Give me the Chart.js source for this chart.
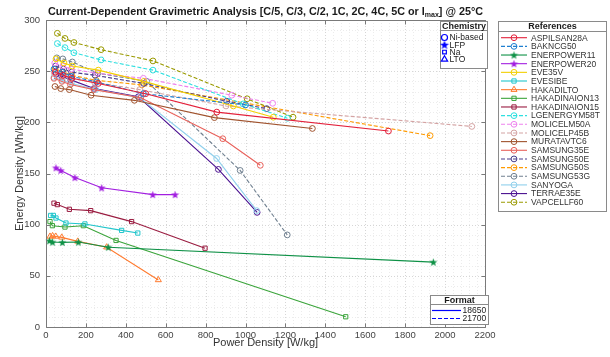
<!DOCTYPE html>
<html><head><meta charset="utf-8">
<script src="https://cdn.jsdelivr.net/npm/chart.js@4.4.1/dist/chart.umd.min.js"></script>
<style>html,body{margin:0;padding:0;background:#fff;}canvas{display:block}</style>
</head><body>
<canvas id="c" width="610" height="357"></canvas>
<script>
// ---- data (x = power density W/kg, y = energy density Wh/kg) ----
const seriesNames = ['ASPILSAN28A','BAKNCG50','ENERPOWER11','ENERPOWER20','EVE35V','EVESIBE','HAKADILTO','HAKADINAION13','HAKADINAION15','LGENERGYM58T','MOLICELM50A','MOLICELP45B','MURATAVTC6','SAMSUNG35E','SAMSUNG50E','SAMSUNG50S','SAMSUNG53G','SANYOGA','TERRAE35E','VAPCELLF60'];
const ASPILSAN28A_P = [46,86,130,262,500,856,1716];
const ASPILSAN28A_E = [249,246,243,238,228,210,191.5];
const BAKNCG50_P = [40,80,125,254,488,1000];
const BAKNCG50_E = [252,249,245,239.5,228,217];
const ENERPOWER11_P = [17,33,82,162,312,1941];
const ENERPOWER11_E = [84.3,83,82.7,83,78,63.4];
const ENERPOWER20_P = [50,74,145,279,535,647];
const ENERPOWER20_E = [155.6,153,146,136,129.4,129.4];
const EVE35V_P = [50,90,132,262,490,939,1139];
const EVE35V_E = [262,258,255,251,240,216,205];
const EVESIBE_P = [23,37,50,100,195,379,460];
const EVESIBE_E = [109,109,106.5,101.6,100.7,94.4,91.8];
const HAKADILTO_P = [20,33,49,79,159,304,563];
const HAKADILTO_E = [88.5,89,88.5,87.6,83.7,78,46];
const HAKADINAION13_P = [20,32,95,187,351,1502];
const HAKADINAION13_E = [103,99,97.7,99,84.6,10];
const HAKADINAION15_P = [40,57,117,224,429,797];
const HAKADINAION15_E = [121,119.6,115,113.7,103,77];
const LGENERGYM58T_P = [57,95,140,276,536,988,1210];
const LGENERGYM58T_E = [277,273,268,261,251,218,204];
const MOLICELM50A_P = [44,84,126,255,488,931,1136];
const MOLICELM50A_E = [258,255,252,248,243,226.5,218.6];
const MOLICELP45B_P = [42,82,122,244,470,902,2134];
const MOLICELP45B_E = [248,246,243,239,232,216,196];
const MURATAVTC6_P = [45,74,117,226,443,844,1335];
const MURATAVTC6_E = [235,233,232,226.5,221.5,204.6,194];
const SAMSUNG35E_P = [40,80,122,240,475,886,1074];
const SAMSUNG35E_E = [243,240,237,232,224,184,158];
const SAMSUNG50E_P = [48,88,128,246,490,906,1106];
const SAMSUNG50E_E = [255,252,249,246,238,220.6,213.4];
const SAMSUNG50S_P = [46,86,128,252,480,1925];
const SAMSUNG50S_E = [252,249,246,241,236.6,187];
const SAMSUNG53G_P = [54,84,132,260,505,973,1209];
const SAMSUNG53G_E = [263,262,259,248,240,153,90];
const SANYOGA_P = [40,82,128,250,470,855,1056];
const SANYOGA_E = [244,241,238,232,224,164.7,113.7];
const TERRAE35E_P = [50,79,124,241,463,864,1058];
const TERRAE35E_E = [247,245,241.5,233,225,154,112];
const VAPCELLF60_P = [57,95,140,276,536,1008,1238];
const VAPCELLF60_E = [287,282,278,271,260,223,205];
const xTickValues = [0,200,400,600,800,1000,1200,1400,1600,1800,2000,2200];
const yTickValues = [0,50,100,150,200,250,300];

const dataP = {ASPILSAN28A:ASPILSAN28A_P,BAKNCG50:BAKNCG50_P,ENERPOWER11:ENERPOWER11_P,ENERPOWER20:ENERPOWER20_P,EVE35V:EVE35V_P,EVESIBE:EVESIBE_P,HAKADILTO:HAKADILTO_P,HAKADINAION13:HAKADINAION13_P,HAKADINAION15:HAKADINAION15_P,LGENERGYM58T:LGENERGYM58T_P,MOLICELM50A:MOLICELM50A_P,MOLICELP45B:MOLICELP45B_P,MURATAVTC6:MURATAVTC6_P,SAMSUNG35E:SAMSUNG35E_P,SAMSUNG50E:SAMSUNG50E_P,SAMSUNG50S:SAMSUNG50S_P,SAMSUNG53G:SAMSUNG53G_P,SANYOGA:SANYOGA_P,TERRAE35E:TERRAE35E_P,VAPCELLF60:VAPCELLF60_P};
const dataE = {ASPILSAN28A:ASPILSAN28A_E,BAKNCG50:BAKNCG50_E,ENERPOWER11:ENERPOWER11_E,ENERPOWER20:ENERPOWER20_E,EVE35V:EVE35V_E,EVESIBE:EVESIBE_E,HAKADILTO:HAKADILTO_E,HAKADINAION13:HAKADINAION13_E,HAKADINAION15:HAKADINAION15_E,LGENERGYM58T:LGENERGYM58T_E,MOLICELM50A:MOLICELM50A_E,MOLICELP45B:MOLICELP45B_E,MURATAVTC6:MURATAVTC6_E,SAMSUNG35E:SAMSUNG35E_E,SAMSUNG50E:SAMSUNG50E_E,SAMSUNG50S:SAMSUNG50S_E,SAMSUNG53G:SAMSUNG53G_E,SANYOGA:SANYOGA_E,TERRAE35E:TERRAE35E_E,VAPCELLF60:VAPCELLF60_E};

// ---- styles ----
const style = {
  ASPILSAN28A:['#e3203a','solid','circle'],
  BAKNCG50:['#1f7fd0','dash','circle'],
  ENERPOWER11:['#0e9146','solid','star'],
  ENERPOWER20:['#a21fe0','solid','star'],
  EVE35V:['#f2cf00','solid','circle'],
  EVESIBE:['#22c6cc','solid','rect'],
  HAKADILTO:['#ff7a2e','solid','triangle'],
  HAKADINAION13:['#3aa43a','solid','rect'],
  HAKADINAION15:['#9a1c40','solid','rect'],
  LGENERGYM58T:['#2fe0e0','dash','circle'],
  MOLICELM50A:['#ee82ee','dash','circle'],
  MOLICELP45B:['#d4a3a3','dash','circle'],
  MURATAVTC6:['#a0522d','solid','circle'],
  SAMSUNG35E:['#e8605a','solid','circle'],
  SAMSUNG50E:['#483d8b','dash','circle'],
  SAMSUNG50S:['#ff9a00','dash','circle'],
  SAMSUNG53G:['#708090','dash','circle'],
  SANYOGA:['#8fd0ec','solid','circle'],
  TERRAE35E:['#4b1190','solid','circle'],
  VAPCELLF60:['#9a9a00','dash','circle']
};
const FONT = "'Liberation Sans', Arial, sans-serif";

function starCanvas(color, size){
  const c=document.createElement('canvas'); c.width=c.height=size;
  const g=c.getContext('2d'); g.fillStyle=color;
  const cx=size/2, cy=size/2+0.4, R=size/2-0.3, r=R*0.42;
  g.beginPath();
  for(let i=0;i<10;i++){const a=-Math.PI/2+i*Math.PI/5; const rr=i%2?r:R; g.lineTo(cx+rr*Math.cos(a),cy+rr*Math.sin(a));}
  g.closePath(); g.fill(); return c;
}
function markerOpts(name){
  const [col,,m]=style[name];
  if(m==='star') return {pointStyle:starCanvas(col,9), radius:4.5};
  if(m==='rect') return {pointStyle:'rect', radius:3};
  if(m==='triangle') return {pointStyle:'triangle', radius:3.5};
  return {pointStyle:'circle', radius:2.9};
}

const datasets = seriesNames.map(n=>{
  const [col,ls]=style[n]; const mo=markerOpts(n);
  return {
    label:n,
    data:dataP[n].map((x,i)=>({x:x,y:dataE[n][i]})),
    showLine:true, borderColor:col, backgroundColor:'rgba(0,0,0,0)',
    borderWidth:1.1, borderDash: ls==='dash'?[4,2]:[],
    pointStyle:mo.pointStyle, pointRadius:mo.radius, pointHoverRadius:mo.radius,
    pointBorderColor:col, pointBackgroundColor:'rgba(0,0,0,0)', pointBorderWidth:1,
    tension:0, clip:false
  };
});

const gridPlugin = {
  id:'mgrid',
  beforeDatasetsDraw(chart){
    const {ctx, chartArea:a, scales:{x,y}} = chart;
    ctx.save(); ctx.lineWidth=1; ctx.setLineDash([1,2]);
    for(let v=0; v<=2200; v+=40){
      const px=Math.round(x.getPixelForValue(v))+0.5;
      ctx.strokeStyle = (v%200===0)?'#d6d6d6':'#ececec';
      ctx.beginPath(); ctx.moveTo(px,a.top); ctx.lineTo(px,a.bottom); ctx.stroke();
    }
    for(let v=0; v<=300; v+=10){
      const py=Math.round(y.getPixelForValue(v))+0.5;
      ctx.strokeStyle = (v%50===0)?'#d6d6d6':'#ececec';
      ctx.beginPath(); ctx.moveTo(a.left,py); ctx.lineTo(a.right,py); ctx.stroke();
    }
    ctx.restore();
  },
  afterDatasetsDraw(chart){
    const {ctx, chartArea:a, scales:{x,y}} = chart;
    ctx.save(); ctx.setLineDash([]); ctx.strokeStyle='#7a7a7a'; ctx.lineWidth=1;
    const L=Math.round(a.left)+0.5, R=Math.round(a.right)+0.5, T=Math.round(a.top)+0.5, B=Math.round(a.bottom)+0.5;
    ctx.beginPath(); ctx.moveTo(L,T); ctx.lineTo(L,B); ctx.lineTo(R,B); ctx.lineTo(R,T); ctx.lineTo(L,T); ctx.stroke();
    ctx.beginPath();
    xTickValues.forEach(v=>{const px=Math.round(x.getPixelForValue(v))+0.5; ctx.moveTo(px,B); ctx.lineTo(px,B-4); ctx.moveTo(px,T); ctx.lineTo(px,T+4);});
    yTickValues.forEach(v=>{const py=Math.round(y.getPixelForValue(v))+0.5; ctx.moveTo(L,py); ctx.lineTo(L+4,py); ctx.moveTo(R,py); ctx.lineTo(R-4,py);});
    ctx.stroke(); ctx.restore();
  },
  afterDraw(chart){
    const {ctx, chartArea:a} = chart;
    const H = Chart.helpers;
    ctx.save();
    // title
    const t1='Current-Dependent Gravimetric Analysis [C/5, C/3, C/2, 1C, 2C, 4C, 5C or I';
    const t2='max', t3='] @ 25°C';
    ctx.fillStyle='#1a1a1a'; ctx.textBaseline='alphabetic';
    const fb='bold 10.8px '+FONT, fs='bold 7px '+FONT;
    ctx.font=fb; const w1=ctx.measureText(t1).width, w3=ctx.measureText(t3).width;
    ctx.font=fs; const w2=ctx.measureText(t2).width;
    let tx=(a.left+a.right)/2-(w1+w2+w3)/2; const ty=15;
    ctx.font=fb; ctx.textAlign='left'; ctx.fillText(t1,tx,ty); tx+=w1;
    ctx.font=fs; ctx.fillText(t2,tx,ty+2); tx+=w2;
    ctx.font=fb; ctx.fillText(t3,tx,ty);
    // axis titles
    ctx.fillStyle='#333'; ctx.font='11px '+FONT; ctx.textAlign='center'; ctx.textBaseline='middle';
    ctx.fillText('Power Density [W/kg]',(a.left+a.right)/2,343);
    ctx.save(); ctx.translate(20,(a.top+a.bottom)/2); ctx.rotate(-Math.PI/2); ctx.fillText('Energy Density [Wh/kg]',0,0); ctx.restore();

    function box(x0,y0,x1,y1,title,sepY){
      ctx.fillStyle='#fff'; ctx.fillRect(x0,y0,x1-x0,y1-y0);
      ctx.strokeStyle='#8a8a8a'; ctx.lineWidth=1; ctx.setLineDash([]);
      ctx.strokeRect(x0+0.5,y0+0.5,x1-x0,y1-y0);
      ctx.beginPath(); ctx.moveTo(x0,sepY+0.5); ctx.lineTo(x1+1,sepY+0.5); ctx.stroke();
      ctx.fillStyle='#1a1a1a'; ctx.font='bold 9px '+FONT; ctx.textAlign='center'; ctx.textBaseline='middle';
      ctx.fillText(title,(x0+x1)/2+0.5,(y0+sepY)/2+1);
    }
    // References legend
    box(498,21,606,211,'References',31);
    seriesNames.forEach((n,i)=>{
      const [col,ls]=style[n]; const yy=37.7+i*8.66; const mo=markerOpts(n);
      ctx.strokeStyle=col; ctx.lineWidth=1.1; ctx.setLineDash(ls==='dash'?[4,2]:[]);
      ctx.beginPath(); ctx.moveTo(501,yy); ctx.lineTo(527,yy); ctx.stroke(); ctx.setLineDash([]);
      ctx.lineWidth=1; ctx.fillStyle='rgba(0,0,0,0)';
      H.drawPoint(ctx,{pointStyle:mo.pointStyle,radius:mo.radius,rotation:0,borderWidth:1},514,yy);
      ctx.fillStyle='#333'; ctx.font='8.5px '+FONT; ctx.textAlign='left'; ctx.textBaseline='middle';
      ctx.fillText(n,531,yy+0.5);
    });
    // Chemistry legend
    box(440,21,487,68,'Chemistry',30);
    const chem=[['Ni-based','circle'],['LFP','star'],['Na','rect'],['LTO','triangle']];
    chem.forEach((c,i)=>{
      const yy=37.5+i*7.3; ctx.strokeStyle='#0000ff'; ctx.fillStyle='rgba(0,0,0,0)'; ctx.lineWidth=1.2;
      let ps=c[1], r=3;
      if(ps==='star'){ps=starCanvas('#0000ff',10); r=5;} if(ps==='rect') r=2.6; if(ps==='triangle') r=3.6;
      H.drawPoint(ctx,{pointStyle:ps,radius:r,rotation:0,borderWidth:1.2},444.5,yy);
      ctx.fillStyle='#1a1a1a'; ctx.font='8.5px '+FONT; ctx.textAlign='left'; ctx.textBaseline='middle';
      ctx.fillText(c[0],449.5,yy+0.5);
    });
    // Format legend
    box(430,295,488,324,'Format',304);
    [['18650',[]],['21700',[4,2]]].forEach((f,i)=>{
      const yy=310.5+i*8; ctx.strokeStyle='#0000ff'; ctx.lineWidth=1.2; ctx.setLineDash(f[1]);
      ctx.beginPath(); ctx.moveTo(432,yy); ctx.lineTo(461,yy); ctx.stroke(); ctx.setLineDash([]);
      ctx.fillStyle='#1a1a1a'; ctx.font='8.5px '+FONT; ctx.textAlign='left'; ctx.textBaseline='middle';
      ctx.fillText(f[0],462.5,yy+0.5);
    });
    ctx.restore();
  }
};

new Chart(document.getElementById('c'),{
  type:'scatter',
  data:{datasets},
  options:{
    responsive:false, animation:false, devicePixelRatio:1,
    layout:{padding:{left:0,right:125,top:20,bottom:0}},
    plugins:{legend:{display:false},tooltip:{enabled:false},title:{display:false}},
    scales:{
      x:{type:'linear',min:0,max:2200,
        afterBuildTicks(s){s.ticks=xTickValues.map(v=>({value:v}));},
        ticks:{font:{family:FONT,size:9.5},color:'#444',padding:3,maxRotation:0,autoSkip:false,callback:v=>String(v)},
        grid:{display:false,drawTicks:false},border:{display:false},
        afterFit(s){s.height=30;}},
      y:{type:'linear',min:0,max:300,
        afterBuildTicks(s){s.ticks=yTickValues.map(v=>({value:v}));},
        ticks:{font:{family:FONT,size:9.5},color:'#444',padding:6,autoSkip:false,callback:v=>String(v)},
        grid:{display:false,drawTicks:false},border:{display:false},
        afterFit(s){s.width=46;}}
    }
  },
  plugins:[gridPlugin]
});
</script></body></html>
